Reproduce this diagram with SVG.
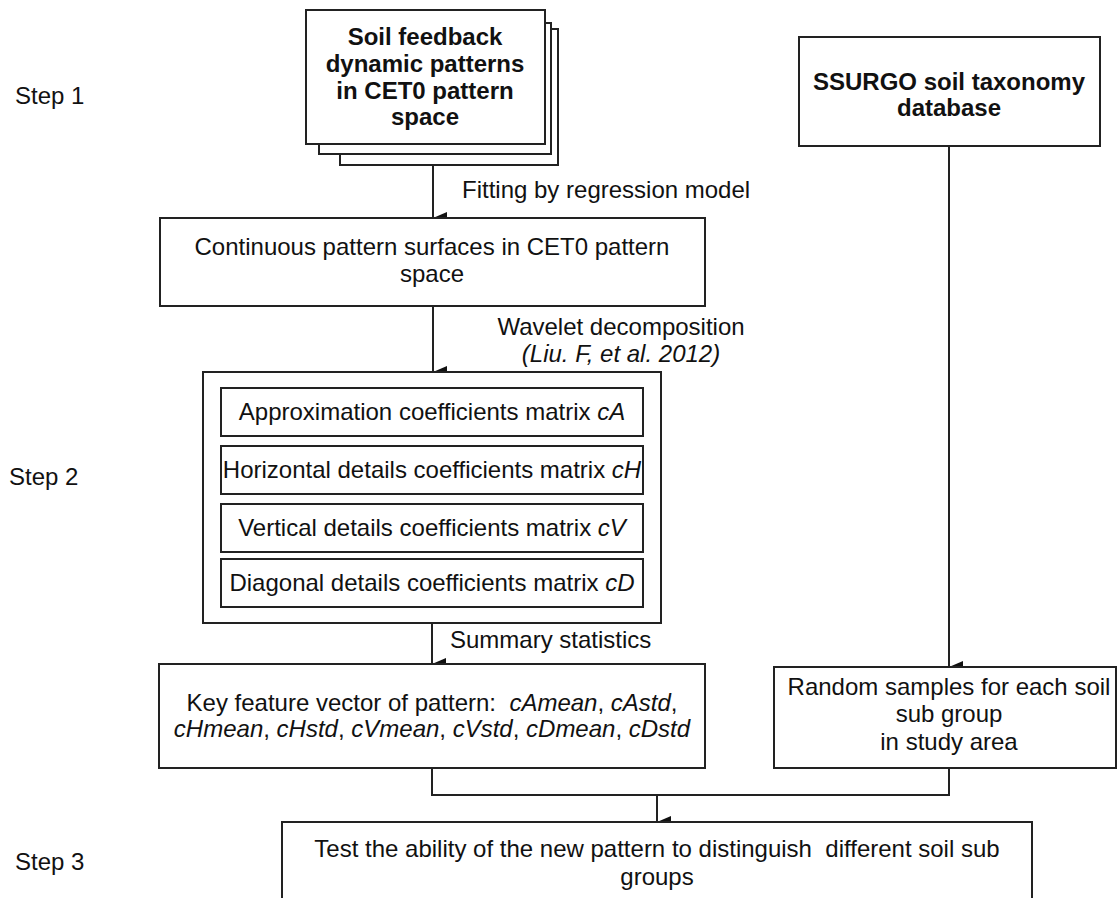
<svg xmlns="http://www.w3.org/2000/svg" width="1118" height="898" viewBox="0 0 1118 898">
<defs>
<marker id="arr" viewBox="0 0 12 14" refX="6" refY="14" markerWidth="12" markerHeight="14" markerUnits="userSpaceOnUse" orient="auto-start-reverse">
<path d="M0,0 L12,0 L6,14 Z" fill="#111"/>
</marker>
<style>
.box{fill:#fff;stroke:#222;stroke-width:2}
.t{font-family:"Liberation Sans",Arial,sans-serif;font-size:24px;fill:#111;white-space:pre}
.b{font-weight:bold}
.i{font-style:italic}
.c{text-anchor:middle}
.ln{fill:none;stroke:#222;stroke-width:2}
</style>
</defs>
<rect width="1118" height="898" fill="#fff"/>

<g id="steps">
<text class="t" x="15" y="104">Step 1</text>
<text class="t" x="9" y="485">Step 2</text>
<text class="t" x="15" y="870">Step 3</text>
</g>

<g id="connectors">
<line class="ln" x1="433" y1="165" x2="433" y2="218" marker-end="url(#arr)"/>
<line class="ln" x1="433" y1="306" x2="433" y2="372" marker-end="url(#arr)"/>
<line class="ln" x1="432" y1="623" x2="432" y2="664" marker-end="url(#arr)"/>
<line class="ln" x1="949" y1="146" x2="949" y2="667" marker-end="url(#arr)"/>
<polyline class="ln" points="432,768 432,795 949,795 949,768"/>
<line class="ln" x1="657" y1="795" x2="657" y2="822" marker-end="url(#arr)"/>
<text class="t" x="462" y="198">Fitting by regression model</text>
<text class="t c" x="621" y="335">Wavelet decomposition</text>
<text class="t c i" x="621" y="362">(Liu. F, et al. 2012)</text>
<text class="t" x="450" y="648">Summary statistics</text>
</g>

<g id="soil-feedback">
<rect class="box" x="340" y="29" width="218" height="136"/>
<rect class="box" x="319" y="23" width="232" height="131"/>
<rect class="box" x="306" y="10" width="239" height="134"/>
<text class="t b c" x="425" y="45">Soil feedback</text>
<text class="t b c" x="425" y="72">dynamic patterns</text>
<text class="t b c" x="425" y="99">in CET0 pattern</text>
<text class="t b c" x="425" y="125">space</text>
</g>

<g id="ssurgo">
<rect class="box" x="799" y="37" width="301" height="109"/>
<text class="t b c" x="949" y="90">SSURGO soil taxonomy</text>
<text class="t b c" x="949" y="116">database</text>
</g>

<g id="continuous">
<rect class="box" x="160" y="218" width="545" height="88"/>
<text class="t c" x="432" y="255">Continuous pattern surfaces in CET0 pattern</text>
<text class="t c" x="432" y="282">space</text>
</g>

<g id="wavelet">
<rect class="box" x="203" y="372" width="458" height="251"/>
<rect class="box" x="221" y="388" width="422" height="48"/>
<text class="t c" x="432" y="420">Approximation coefficients matrix <tspan class="i">cA</tspan></text>
<rect class="box" x="221" y="446" width="422" height="48"/>
<text class="t c" x="432" y="478">Horizontal details coefficients matrix <tspan class="i">cH</tspan></text>
<rect class="box" x="221" y="504" width="422" height="48"/>
<text class="t c" x="432" y="536">Vertical details coefficients matrix <tspan class="i">cV</tspan></text>
<rect class="box" x="221" y="559" width="422" height="48"/>
<text class="t c" x="432" y="591">Diagonal details coefficients matrix <tspan class="i">cD</tspan></text>
</g>

<g id="key-feature">
<rect class="box" x="159" y="664" width="546" height="104"/>
<text class="t c" x="432" y="711">Key feature vector of pattern:  <tspan class="i">cAmean</tspan>, <tspan class="i">cAstd</tspan>,</text>
<text class="t c i" x="432" y="737">cHmean<tspan font-style="normal">, </tspan>cHstd<tspan font-style="normal">, </tspan>cVmean<tspan font-style="normal">, </tspan>cVstd<tspan font-style="normal">, </tspan>cDmean<tspan font-style="normal">, </tspan>cDstd</text>
</g>

<g id="random-samples">
<rect class="box" x="774" y="667" width="342" height="101"/>
<text class="t c" x="949" y="695">Random samples for each soil</text>
<text class="t c" x="949" y="722">sub group</text>
<text class="t c" x="949" y="750">in study area</text>
</g>

<g id="test">
<rect class="box" x="282" y="822" width="750" height="100"/>
<text class="t c" x="657" y="857">Test the ability of the new pattern to distinguish  different soil sub</text>
<text class="t c" x="657" y="885">groups</text>
</g>
</svg>
